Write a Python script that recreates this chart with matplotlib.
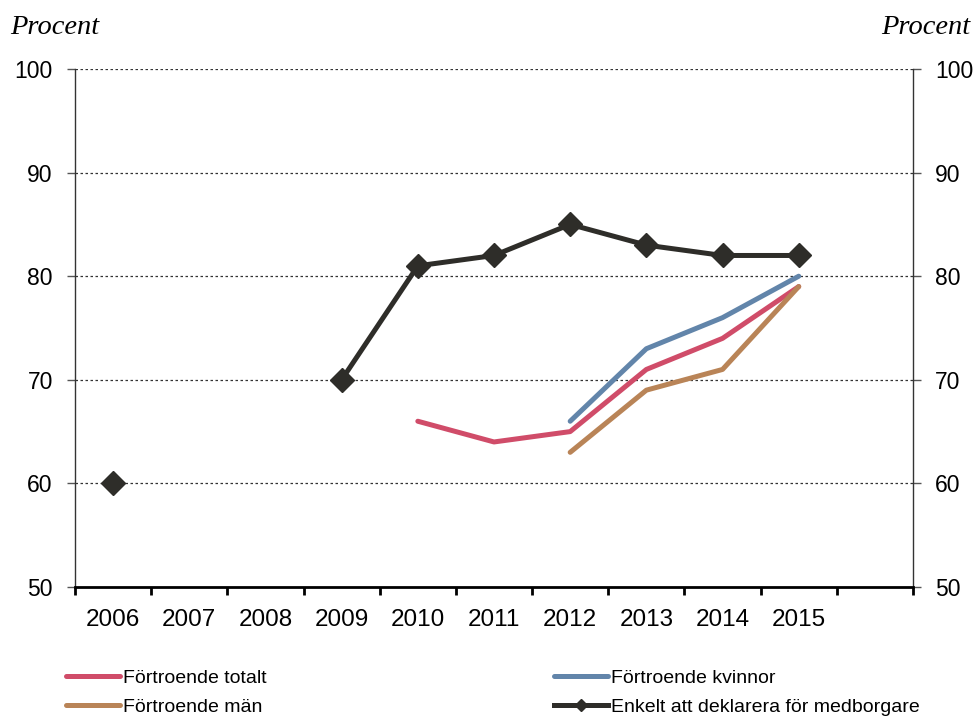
import matplotlib
matplotlib.use("Agg")
import matplotlib.pyplot as plt
import numpy as np

plt.rcParams['font.family'] = ['Liberation Sans', 'DejaVu Sans']

# Årtal och serier (procent)
years = ['2006', '2007', '2008', '2009', '2010', '2011', '2012', '2013', '2014', '2015']
n_slots = 11  # en tom kategori efter 2015

enkelt_years = ['2006', '2009', '2010', '2011', '2012', '2013', '2014', '2015']
enkelt = [60, 70, 81, 82, 85, 83, 82, 82]

totalt_years = ['2010', '2011', '2012', '2013', '2014', '2015']
totalt = [66, 64, 65, 71, 74, 79]

kvinnor_years = ['2012', '2013', '2014', '2015']
kvinnor = [66, 73, 76, 80]

man_years = ['2012', '2013', '2014', '2015']
man = [63, 69, 71, 79]

c_totalt = '#D04C69'
c_kvinnor = '#6285AA'
c_man = '#B98457'
c_enkelt = '#2E2D29'


def xpos(labels):
    # kategorimitt för varje årtal
    return [years.index(y) + 0.5 for y in labels]


fig = plt.figure(figsize=(9.76, 7.17), dpi=100)
ax = fig.add_axes([75 / 976, 1 - 587 / 717, (913 - 75) / 976, (587 - 69) / 717])

# 2006 ritas separat, inga värden 2007-2008
ex = xpos(enkelt_years)
ax.plot(ex[:1], enkelt[:1], color=c_enkelt, marker='D', markersize=12.5, linestyle='none')
h_enkelt, = ax.plot(ex[1:], enkelt[1:], color=c_enkelt, linewidth=3.6, marker='D', markersize=12.5,
                    solid_joinstyle='miter', label='Enkelt att deklarera för medborgare')
h_totalt, = ax.plot(xpos(totalt_years), totalt, color=c_totalt, linewidth=3.6,
                    solid_capstyle='round', label='Förtroende totalt')
h_kvinnor, = ax.plot(xpos(kvinnor_years), kvinnor, color=c_kvinnor, linewidth=3.6,
                     solid_capstyle='round', label='Förtroende kvinnor')
h_man, = ax.plot(xpos(man_years), man, color=c_man, linewidth=3.6,
                 solid_capstyle='round', label='Förtroende män')

ax.set_xlim(0, n_slots)
ax.set_ylim(50, 100)

# x-axel: streck mellan kategorierna, etiketter i mitten
ax.set_xticks(np.arange(0, n_slots + 1))
ax.set_xticklabels([])
ax.set_xticks(np.arange(len(years)) + 0.5, minor=True)
ax.set_xticklabels(years, minor=True, fontsize=17.5)
ax.tick_params(axis='x', which='major', direction='out', length=6, width=2, color='black')
ax.tick_params(axis='x', which='minor', length=0, pad=16)

yt = [50, 60, 70, 80, 90, 100]
ax.set_yticks(yt)
ax.set_yticklabels([str(v) for v in yt], fontsize=16.5)
ax.tick_params(axis='y', direction='out', length=6, width=1, color='#555555', pad=10,
               labelleft=True, labelright=True, left=True, right=True)

for v in yt[1:]:
    ax.axhline(v, color='#333333', linestyle=(0, (2, 2)), linewidth=0.9, zorder=0)

ax.spines['top'].set_visible(False)
ax.spines['left'].set_color('#333333')
ax.spines['right'].set_color('#333333')
ax.spines['left'].set_linewidth(1)
ax.spines['right'].set_linewidth(1)
ax.spines['bottom'].set_linewidth(2)
ax.spines['bottom'].set_color('black')

fig.text(10 / 976, 1 - 28 / 717, 'Procent', family='Liberation Serif', style='italic',
         fontsize=20.5, ha='left', va='center')
fig.text(970 / 976, 1 - 28 / 717, 'Procent', family='Liberation Serif', style='italic',
         fontsize=20.5, ha='right', va='center')

leg_kw = dict(frameon=False, fontsize=14, handlelength=2.8, handletextpad=0.15,
              labelspacing=0.6, markerscale=0.5, borderaxespad=0, borderpad=0)
fig.legend(handles=[h_totalt, h_man], loc='upper left',
           bbox_to_anchor=(66 / 976, 1 - 669 / 717), **leg_kw)
fig.legend(handles=[h_kvinnor, h_enkelt], loc='upper left',
           bbox_to_anchor=(554 / 976, 1 - 669 / 717), **leg_kw)

fig.savefig('out.png', dpi=100)
